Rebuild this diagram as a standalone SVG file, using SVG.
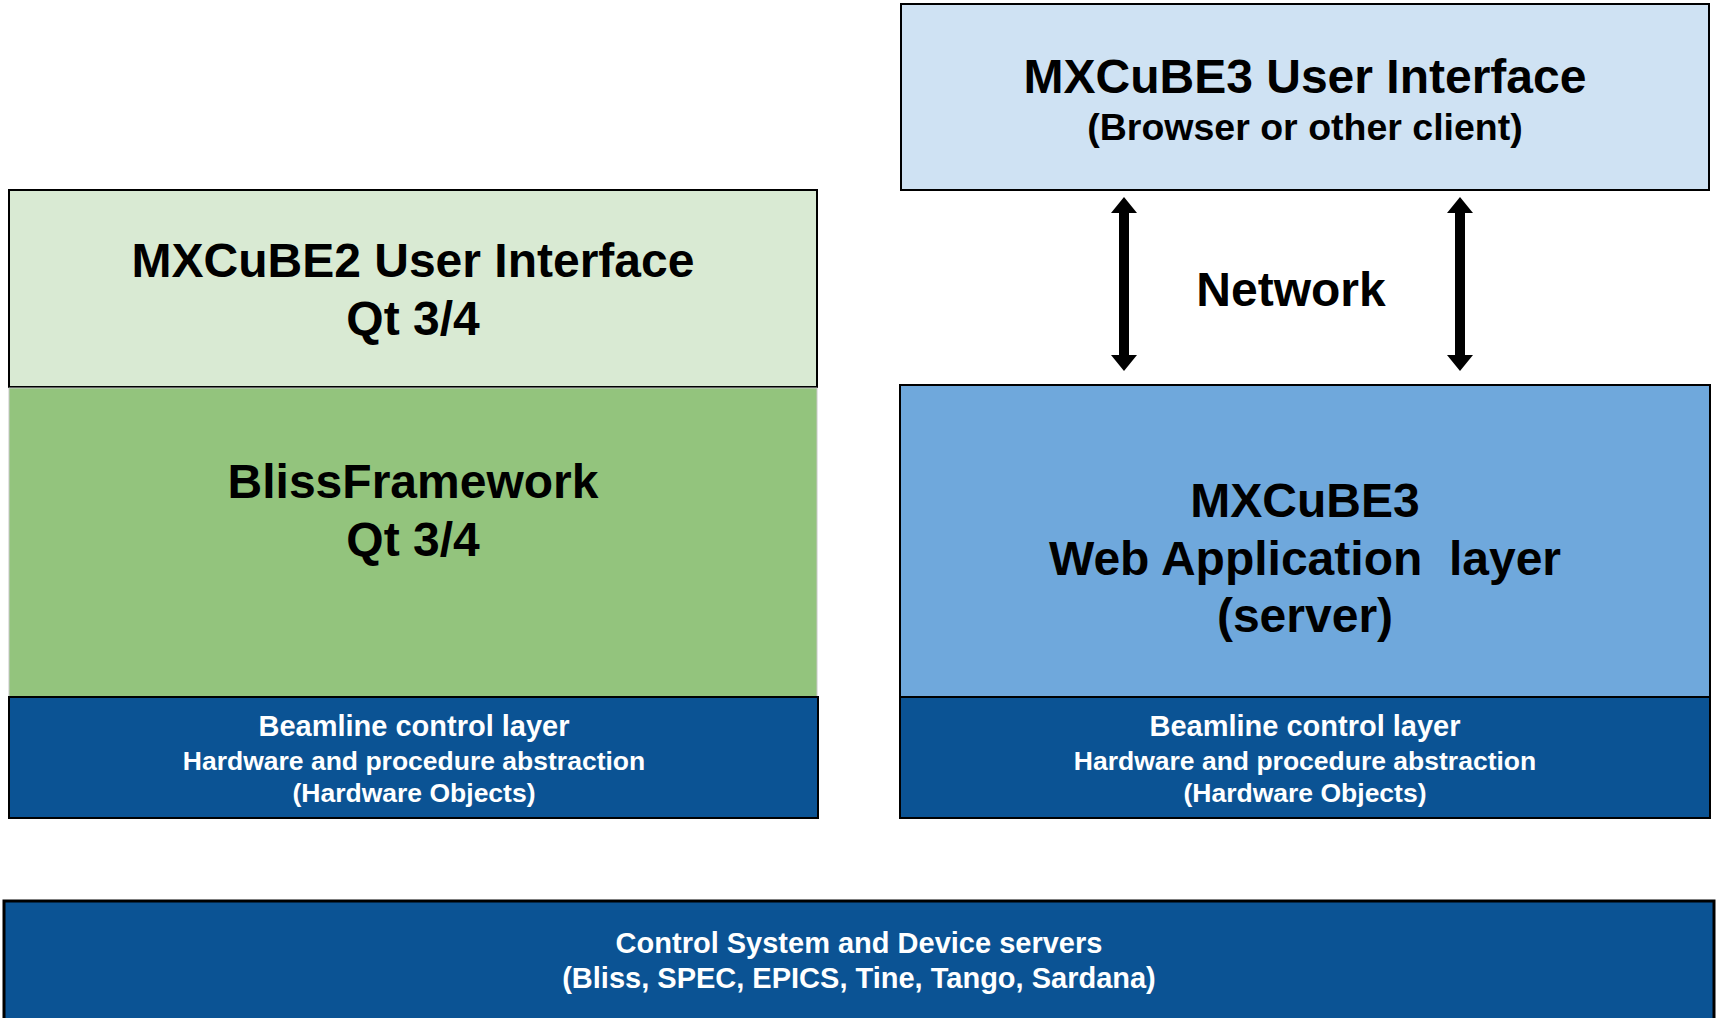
<svg xmlns="http://www.w3.org/2000/svg" width="1718" height="1018" viewBox="0 0 1718 1018">
<style>
.t{font-family:"Liberation Sans",Arial,sans-serif;font-weight:bold;text-anchor:middle}
.big{font-size:48px;fill:#000}
.w1{font-size:29px;fill:#fff}
.w2{font-size:26.5px;fill:#fff}
.box{stroke:#000;stroke-width:2}
.dark{fill:#0B5394}
</style>
<rect width="1718" height="1018" fill="#fff"/>
<g id="mxcube2-ui">
<rect class="box" x="9" y="190" width="808" height="197" fill="#D9EAD3"/>
<text class="t big" x="413" y="277">MXCuBE2 User Interface</text>
<text class="t big" x="413" y="335">Qt 3/4</text>
</g>
<g id="blissframework">
<rect x="9" y="388" width="808" height="309" fill="#93C47D" stroke="#c8c8c8" stroke-width="1"/>
<text class="t big" x="413" y="498">BlissFramework</text>
<text class="t big" x="413" y="556">Qt 3/4</text>
</g>
<g id="beamline-left">
<rect class="box dark" x="9" y="697" width="809" height="121"/>
<text class="t w1" x="414" y="736">Beamline control layer</text>
<text class="t w2" x="414" y="770">Hardware and procedure abstraction</text>
<text class="t w2" x="414" y="802">(Hardware Objects)</text>
</g>
<g id="mxcube3-ui">
<rect class="box" x="901" y="4" width="808" height="186" fill="#CFE2F3"/>
<text class="t big" x="1305" y="93">MXCuBE3 User Interface</text>
<text class="t" style="font-size:37.5px" x="1305" y="140">(Browser or other client)</text>
</g>
<g id="mxcube3-web">
<rect class="box" x="900" y="385" width="810" height="312" fill="#6FA8DC"/>
<text class="t big" x="1305" y="517">MXCuBE3</text>
<text class="t big" x="1305" y="575" xml:space="preserve">Web Application  layer</text>
<text class="t big" x="1305" y="632">(server)</text>
</g>
<g id="beamline-right">
<rect class="box dark" x="900" y="697" width="810" height="121"/>
<text class="t w1" x="1305" y="736">Beamline control layer</text>
<text class="t w2" x="1305" y="770">Hardware and procedure abstraction</text>
<text class="t w2" x="1305" y="802">(Hardware Objects)</text>
</g>
<g id="control-system">
<rect class="dark" x="4" y="901" width="1710" height="130" stroke="#000" stroke-width="3"/>
<text class="t w1" x="859" y="953">Control System and Device servers</text>
<text class="t w1" x="859" y="988">(Bliss, SPEC, EPICS, Tine, Tango, Sardana)</text>
</g>
<g id="connectors" fill="#000">
<path d="M1124 197 L1137 213 L1129 213 L1129 355 L1137 355 L1124 371 L1111 355 L1119 355 L1119 213 L1111 213 Z"/>
<path d="M1460 197 L1473 213 L1465 213 L1465 355 L1473 355 L1460 371 L1447 355 L1455 355 L1455 213 L1447 213 Z"/>
<text class="t big" x="1291" y="306">Network</text>
</g>
</svg>
